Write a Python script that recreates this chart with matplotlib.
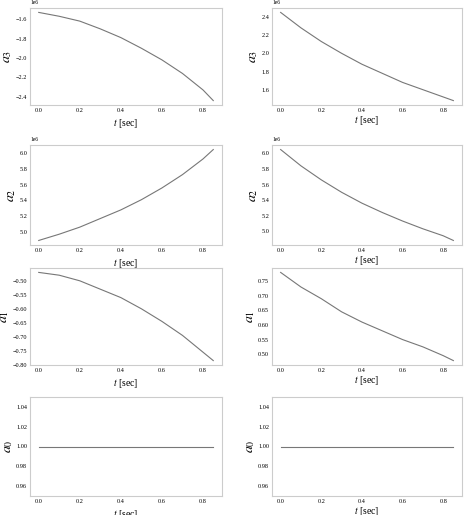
import matplotlib
matplotlib.use("Agg")
import matplotlib.pyplot as plt

t = [0.0, 0.1, 0.2, 0.3, 0.4, 0.5, 0.6, 0.7, 0.8, 0.85]
a3_left = [-1.53, -1.57, -1.62, -1.70, -1.79, -1.90, -2.02, -2.16, -2.33, -2.44]
a3_right = [2.45, 2.28, 2.13, 2.00, 1.88, 1.78, 1.68, 1.60, 1.52, 1.48]
a2_left = [4.89, 4.97, 5.06, 5.17, 5.28, 5.41, 5.56, 5.73, 5.93, 6.05]
a2_right = [6.05, 5.84, 5.66, 5.50, 5.36, 5.24, 5.13, 5.03, 4.94, 4.88]
a1_left = [-0.47, -0.48, -0.50, -0.53, -0.56, -0.60, -0.645, -0.695, -0.755, -0.785]
a1_right = [0.78, 0.73, 0.69, 0.645, 0.61, 0.58, 0.55, 0.525, 0.495, 0.478]
a0 = [1.0] * len(t)

plt.rcParams['font.family'] = ['Liberation Serif', 'DejaVu Serif']
plt.rcParams['mathtext.fontset'] = 'stix'

fig = plt.figure(figsize=(4.74, 5.15), dpi=100)
W, H = 474, 515
rows = [(8, 105), (145, 245), (268, 365), (397, 496)]
cols = [(30, 222), (272, 462)]
data = [[(a3_left, '$a_3$', True), (a3_right, '$a_3$', True)],
        [(a2_left, '$a_2$', True), (a2_right, '$a_2$', True)],
        [(a1_left, '$a_1$', False), (a1_right, '$a_1$', False)],
        [(a0, '$a_0$', False), (a0, '$a_0$', False)]]
for r, (y0, y1) in enumerate(rows):
    for c, (x0, x1) in enumerate(cols):
        vals, lab, sci = data[r][c]
        ax = fig.add_axes([x0 / W, 1 - y1 / H, (x1 - x0) / W, (y1 - y0) / H])
        if sci:
            ax.plot(t, [v * 1e6 for v in vals], color='#777777', lw=0.8)
            ax.ticklabel_format(axis='y', style='sci', scilimits=(6, 6))
            ax.yaxis.get_offset_text().set_fontsize(4)
        else:
            ax.plot(t, vals, color='#777777', lw=0.8)
        if r == 3:
            ax.set_ylim(0.95, 1.05)
            ax.set_yticks([0.96, 0.98, 1.00, 1.02, 1.04])
        ax.set_xticks([0.0, 0.2, 0.4, 0.6, 0.8])
        ax.tick_params(labelsize=4.5, length=0, pad=2)
        for s in ax.spines.values():
            s.set_color('#cccccc')
            s.set_linewidth(0.8)
        ax.set_ylabel(lab, fontsize=10, labelpad=1)
        ax.set_xlabel('$t$ [sec]', fontsize=7, labelpad=1 if c == 1 else 3)

fig.savefig('out.png', dpi=100)
